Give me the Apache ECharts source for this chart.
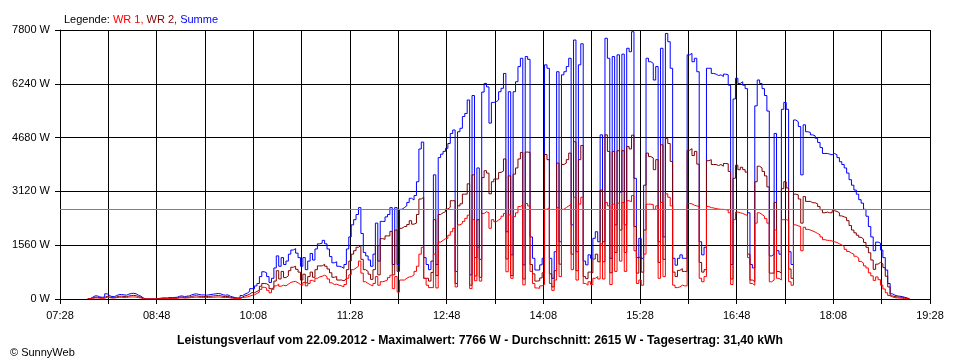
<!DOCTYPE html>
<html><head><meta charset="utf-8">
<script src="https://cdn.jsdelivr.net/npm/echarts@6/dist/echarts.min.js"></script>
<style>html,body{margin:0;padding:0;background:#fff}#c{width:960px;height:360px}</style>
</head><body><div id="c"></div>
<script>
// minutes after 07:28, one value every 2 minutes
const stepMin = 2;
const xTickLabels = ['07:28','08:48','10:08','11:28','12:48','14:08','15:28','16:48','18:08','19:28'];
const yTicks = [0, 1560, 3120, 4680, 6240, 7800];
const avgW = 2615;
const N = null;

const wr1 = [
N,N,N,N,N,N,N,N,N,N,N,N,5,20,30,30,20,20,20,50,
40,30,30,40,50,50,45,45,55,60,60,55,40,30,10,0,0,0,0,0,
5,10,10,10,10,15,15,15,20,30,35,25,30,35,45,50,55,50,45,45,
40,45,50,50,55,60,55,45,40,45,30,20,15,10,10,40,50,60,80,110,
120,160,200,280,340,320,250,180,280,380,430,370,400,380,430,480,500,510,470,420,
400,480,380,450,540,500,600,640,660,690,650,580,470,420,430,400,380,360,420,600,
700,850,900,950,1100,750,500,450,410,380,450,650,400,500,520,550,620,690,300,650,
200,550,550,600,640,650,700,800,950,1300,1500,600,400,330,330,1300,320,1650,1700,1750,
1760,1850,1950,2050,350,2150,2190,2250,2340,2430,300,2300,530,1500,520,2480,2530,2500,2050,2300,
2240,2290,2340,2400,2480,790,2440,600,2390,2500,2680,2730,410,2770,2700,800,450,320,310,380,
420,2600,2650,450,250,550,2650,650,2600,2650,2700,2750,850,2950,550,2750,2950,450,400,500,
420,600,650,580,1600,580,2800,2700,420,2750,800,2780,1100,2800,800,2850,2820,3000,1400,450,
550,400,1300,2750,2750,2740,2600,2700,600,2800,650,3050,2950,2700,400,330,350,400,380,380,
2770,2760,2720,2700,2680,600,500,650,2680,2650,2640,2620,2610,2600,2600,2590,2580,2500,420,2300,
2520,2500,2480,2450,2420,1200,450,400,2200,2500,2450,2400,2330,2200,500,550,2000,600,550,2300,
2300,2280,500,400,2150,2120,2100,1400,2080,2020,2000,1970,1940,1900,1860,1800,1720,1700,1700,1680,
1660,1640,1600,1570,1520,1440,1380,1330,1300,1240,1190,1090,1040,960,900,760,670,540,640,560,
400,290,180,100,60,40,30,25,20,15,10,5,N,N,N,N,N,N,N,N,
N];

const wr2 = [
N,N,N,N,N,N,N,N,N,N,N,N,5,30,50,50,40,30,40,80,
60,40,40,60,80,80,75,65,85,100,105,95,70,50,20,0,0,0,0,0,
5,10,20,20,20,25,25,30,30,50,55,45,50,55,75,90,95,80,75,75,
70,75,80,90,95,100,95,75,70,75,50,40,25,20,20,60,90,110,140,190,
180,220,250,370,450,440,400,300,320,520,820,580,800,620,670,820,920,950,860,780,
550,720,470,650,780,630,850,960,960,1010,950,870,760,630,650,550,550,530,580,850,
1100,1300,1400,1500,1550,1150,850,800,720,570,850,1550,700,1750,1730,1830,1830,1960,700,2000,
800,2050,2100,2100,2160,2270,2170,2200,2450,2900,2950,600,600,520,770,2300,680,2450,2500,2530,
2610,2660,2850,2850,450,2700,2760,3040,3040,3340,400,3600,670,2300,630,3520,3720,3650,3050,3400,
3480,3480,3670,3710,4060,1160,3570,680,3620,3800,4060,4250,580,4260,4250,1000,730,520,530,610,
760,4190,4040,730,350,820,3940,1010,3900,3940,4040,4230,1300,4560,820,4040,4450,650,590,780,
760,1160,1300,1080,3160,1080,4760,4280,760,4280,1350,4300,2000,4300,1350,4420,4350,4750,2100,750,
1210,780,2000,4230,4130,4090,3750,4040,1060,4470,1150,4650,4510,3990,780,650,830,880,800,800,
4310,4360,4160,4280,3910,1060,780,850,4010,4040,3900,3900,3870,3900,3850,3930,3920,3700,580,3500,
3880,3750,3820,3750,3680,1300,550,500,3400,3850,3800,3700,3570,3250,750,750,2800,800,750,3200,
3400,3220,870,600,3040,3020,2900,2200,2970,2830,2830,2790,2790,2760,2680,2590,2500,2520,2500,2500,
2560,2540,2500,2410,2380,2360,2270,2130,2000,1920,1850,1790,1740,1640,1500,1340,1130,860,1010,1060,
1020,910,660,350,90,70,60,55,50,35,20,5,N,N,N,N,N,N,N,N,
N];

const summe = [
N,N,N,N,N,N,N,N,N,N,N,N,10,50,90,90,60,50,60,150,
100,70,70,100,130,130,120,110,140,160,165,150,110,80,30,0,0,0,0,0,
10,20,30,30,30,40,40,45,50,80,90,70,80,90,120,140,150,130,120,120,
110,120,130,140,150,160,150,120,110,120,80,60,40,30,30,100,140,170,220,300,
300,380,450,650,790,760,650,480,600,900,1250,950,1200,1000,1100,1300,1420,1460,1330,1200,
950,1200,850,1100,1320,1130,1450,1600,1620,1700,1600,1450,1230,1050,1080,950,930,890,1000,1450,
1800,2150,2300,2450,2650,1900,1350,1250,1130,950,1300,2200,1100,2250,2250,2380,2450,2650,1000,2650,
1000,2600,2650,2700,2800,2920,2870,3000,3400,4350,4550,1200,1000,850,1100,3600,1000,4100,4200,4280,
4370,4510,4800,4900,800,4850,4950,5290,5380,5770,700,5900,1200,3800,1150,6000,6250,6150,5100,5700,
5720,5770,6010,6110,6540,1950,6010,1280,6010,6300,6740,6980,990,7030,6950,1800,1180,840,840,990,
1180,6790,6690,1180,600,1370,6590,1660,6500,6590,6740,6980,2150,7510,1370,6790,7400,1100,990,1280,
1180,1760,1950,1660,4760,1660,7560,6980,1180,7030,2150,7080,3100,7100,2150,7270,7170,7750,3500,1200,
1760,1180,3300,6980,6880,6830,6350,6740,1660,7270,1800,7700,7460,6690,1180,980,1180,1280,1180,1180,
7080,7120,6880,6980,6590,1660,1280,1500,6690,6690,6540,6520,6480,6500,6450,6520,6500,6200,1000,5800,
6400,6250,6300,6200,6100,2500,1000,900,5600,6350,6250,6100,5900,5450,1250,1300,4800,1400,1300,5500,
5700,5500,1370,1000,5190,5140,5000,3600,5050,4850,4830,4760,4730,4660,4540,4390,4220,4220,4200,4180,
4220,4180,4100,3980,3900,3800,3650,3460,3300,3160,3040,2880,2780,2600,2400,2100,1800,1400,1650,1620,
1420,1200,840,450,150,110,90,80,70,50,30,10,N,N,N,N,N,N,N,N,
N];

const toPairs = arr => arr.map((v, i) => [i * stepMin, v]);
const FONT = '"Liberation Sans", Arial, sans-serif';

const chart = echarts.init(document.getElementById('c'), null, {renderer: 'canvas'});
chart.setOption({
  animation: false,
  backgroundColor: '#ffffff',
  textStyle: {fontFamily: FONT},
  title: [
    {
      left: 59, top: 9,
      text: '{k|Legende: }{a|WR 1,} {b|WR 2,} {c|Summe}',
      textStyle: {
        fontSize: 11, fontWeight: 'normal', fontFamily: FONT,
        rich: {
          k: {color: '#000000', fontSize: 11, fontFamily: FONT},
          a: {color: '#ff0000', fontSize: 11, fontFamily: FONT},
          b: {color: '#800000', fontSize: 11, fontFamily: FONT},
          c: {color: '#0000ff', fontSize: 11, fontFamily: FONT}
        }
      }
    },
    {
      left: 'center', top: 330,
      text: 'Leistungsverlauf vom 22.09.2012 - Maximalwert: 7766 W - Durchschnitt: 2615 W - Tagesertrag: 31,40 kWh',
      textStyle: {fontSize: 12.2, fontWeight: 'bold', color: '#000', fontFamily: FONT}
    },
    {
      left: 5, top: 342,
      text: '\u00A9 SunnyWeb',
      textStyle: {fontSize: 11, fontWeight: 'normal', color: '#000', fontFamily: FONT}
    }
  ],
  grid: {left: 60, right: 30, top: 30, bottom: 61, containLabel: false},
  xAxis: {
    type: 'value', min: 0, max: 720, interval: 40,
    axisLine: {show: true, lineStyle: {color: '#000', width: 1}},
    axisTick: {show: true, length: 5, lineStyle: {color: '#000'}},
    splitLine: {show: true, lineStyle: {color: '#000', width: 1}},
    axisLabel: {
      color: '#000', fontSize: 11, fontFamily: FONT, margin: 11,
      formatter: v => (v % 80 === 0 ? xTickLabels[v / 80] : '')
    }
  },
  yAxis: {
    type: 'value', min: yTicks[0], max: yTicks[yTicks.length - 1], interval: yTicks[1] - yTicks[0],
    axisLine: {show: true, lineStyle: {color: '#000', width: 1}},
    axisTick: {show: true, length: 5, lineStyle: {color: '#000'}},
    splitLine: {show: true, lineStyle: {color: '#000', width: 1}},
    axisLabel: {color: '#000', fontSize: 11, fontFamily: FONT, margin: 10, formatter: v => v + ' W'}
  },
  series: [
    {name: 'Summe', type: 'line', step: 'middle', data: toPairs(summe), showSymbol: false, symbol: 'none',
     lineStyle: {color: '#0000ff', width: 1}, itemStyle: {color: '#0000ff'}, z: 2},
    {name: 'WR 2', type: 'line', step: 'middle', data: toPairs(wr2), showSymbol: false, symbol: 'none',
     lineStyle: {color: '#800000', width: 1}, itemStyle: {color: '#800000'}, z: 3},
    {name: 'WR 1', type: 'line', step: 'middle', data: toPairs(wr1), showSymbol: false, symbol: 'none',
     lineStyle: {color: '#ff0000', width: 1}, itemStyle: {color: '#ff0000'}, z: 4,
     markLine: {silent: true, symbol: ['none', 'none'], label: {show: false},
       lineStyle: {color: '#808080', type: 'solid', width: 1},
       data: [{yAxis: avgW}]}}
  ]
});
</script>
</body></html>
